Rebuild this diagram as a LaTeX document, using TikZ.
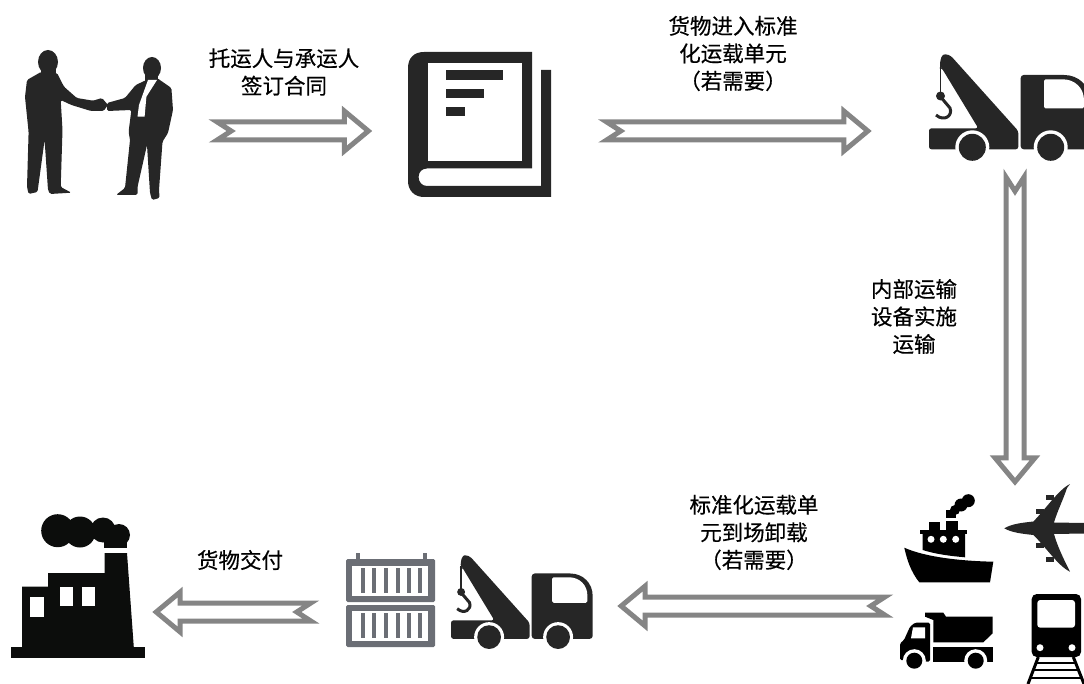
\documentclass[tikz,border=0pt]{standalone}
\usepackage{fontspec}
\usepackage{xcolor}
\usetikzlibrary{calc}
\setmainfont[FakeBold=0.4]{Noto Sans CJK SC}
\definecolor{arrowgray}{HTML}{858585}
\definecolor{icondark}{HTML}{262626}
\definecolor{iconblack}{HTML}{0C0D0C}
\definecolor{boxgray}{HTML}{6B6E75}
\tikzstyle{iconbox} = [inner sep=0, minimum width=#1]
\tikzstyle{textlabel} = [align=center, inner sep=0, font=\fontsize{21.5}{27.5}\selectfont]
\tikzstyle{arrowline} = [draw=arrowgray, line width=5pt, fill=white]

% one hollow arrow: from, to, gap at the tail, gap at the tip
\newcommand{\hollowarrow}[4]{
\coordinate (tail) at ($(#1)!#3!(#2)$);
\coordinate (tip) at ($(#2)!#4!(#1)$);
\draw[arrowline] ($(tail)!9pt!90:(tip)$) -- ($(tip)!24pt!(tail)!-9pt!90:(tail)$)
	-- ($(tip)!24pt!(tail)!-20pt!90:(tail)$) -- (tip)
	-- ($(tip)!24pt!(tail)!20pt!90:(tail)$) -- ($(tip)!24pt!(tail)!9pt!90:(tail)$)
	-- ($(tail)!-9pt!90:(tip)$) -- ($(tail)!14pt!(tip)$) -- cycle;
}

\tikzset{
	cranetruck/.pic={
		\fill[icondark, rounded corners=2.5pt] (11,14) -- (11,8) -- (13,1) -- (17,0) -- (22,2)
			-- (89.3,77) -- (89.3,95.3) -- (0,95.3) -- (0,74.3) -- (49.3,74.3) -- (12.7,14) -- cycle;
		\fill[icondark, rounded corners=3pt] (91.7,95.3) -- (91.7,21) -- (132,21)
			.. controls (150,21) and (161,32) .. (161,50) -- (161,95.3) -- cycle;
		\fill[white, rounded corners=1.5pt] (115,25.3) -- (115,54.3) -- (155,54.3) -- (155,48)
			.. controls (155,34) and (146,25.3) .. (132,25.3) -- cycle;
		\foreach \wx in {43.3,121.7} {
			\fill[white] (\wx,93.3) circle[radius=17];
			\fill[icondark] (\wx,93.3) circle[radius=13.5];
		}
		\draw[icondark, line width=1.5pt] (11.5,12) -- (11.5,40);
		\draw[icondark, line width=3pt] (10,41) -- (21,54) .. controls (24,62) and (15,68) .. (7,61);
		\fill[icondark] (11.5,42) circle[radius=4.5];
	}
}

\begin{document}
\begin{tikzpicture}[x=1pt, y=-1pt]
\useasboundingbox (0,0) rectangle (1084,684);
\clip (0,0) rectangle (1084,684);

% handshake
\fill[icondark] (48,62) ellipse[x radius=10, y radius=12];
\fill[icondark] (152,68) ellipse[x radius=9, y radius=11];
\fill[icondark] (41,66) rectangle (56,78);
\fill[icondark] (145,72) rectangle (158,84);
\fill[icondark, rounded corners=1.5pt] (41,72) -- (27,80) -- (25,97) -- (28.6,132) -- (27,187) -- (28.6,194) -- (37.5,192)
	-- (44.6,140) -- (48,190) -- (50,194) -- (71.4,192.7) -- (60.7,187) -- (62.5,130) -- (60.7,100) -- (71.4,105)
	-- (91,111) -- (103.6,111) -- (108,105) -- (102,98) -- (93,100.7) -- (76.8,98) -- (64,86.7) -- (57,73) -- cycle;
\fill[icondark, rounded corners=1.5pt] (107,103) -- (125,98) -- (135.7,85) -- (146.4,80) -- (157,78) -- (171.4,88) -- (173,110)
	-- (168,133) -- (162.5,141.7) -- (159,190) -- (159.6,198) -- (152,200) -- (150,193) -- (147,145) -- (137.5,187)
	-- (137.5,195) -- (116,195) -- (125,188) -- (130,140) -- (128.6,131.7) -- (131.4,110) -- (107,111) -- cycle;
\fill[white] (148,80) -- (139,105) -- (137.5,116.7) -- (144.6,116.7) -- (146.4,96.7) -- (157,80) -- cycle;

% book
\fill[icondark] (424,52) -- (532,52) -- (532,168.5) -- (427,168.5) .. controls (422,168.5) and (418.6,172) .. (418.6,177)
	.. controls (418.6,182) and (422,186) .. (427,186) -- (541,186) -- (541,70) -- (551,70) -- (551,197) -- (424,197)
	.. controls (414,197) and (408,190) .. (408,181) -- (408,68) .. controls (408,58) and (414,52) .. (424,52) -- cycle;
\fill[white] (427.5,62.7) rectangle (522,160.7);
\fill[icondark] (446,70) rectangle (503,80);
\fill[icondark] (446,89) rectangle (484,98);
\fill[icondark] (446,107) rectangle (465,116);

% crane trucks
\pic at (929,54) {cranetruck};
\pic[scale=0.88] at (451,555) {cranetruck};

% containers
\fill[boxgray] (356,553) rectangle (360,560);
\fill[boxgray] (423,553) rectangle (427,560);
\fill[boxgray, rounded corners=1.5pt] (346,559) rectangle (435,602);
\fill[boxgray, rounded corners=1.5pt] (346,605) rectangle (435,647);
\foreach \boxtop/\boxbot/\slattop/\slatbot in {566/596/568/593,611/641/613/638}
{
	\fill[white] (352,\boxtop) rectangle (428,\boxbot);
	\foreach \sx in {361,372,384,396,407,418}
		\fill[boxgray] (\sx,\slattop) rectangle (\sx+3.8,\slatbot);
}

% factory
\fill[iconblack] (11,647.3) rectangle (145,658);
\fill[iconblack] (22,650) -- (22,586.7) -- (48,586.7) -- (48,573) -- (104.6,573) -- (104.6,553) -- (127,553) -- (134,650) -- cycle;
\fill[iconblack] (104,532) rectangle (127,548);
\fill[iconblack] (57.7,530.7) circle[radius=16.5];
\fill[iconblack] (80,532) circle[radius=15.5];
\fill[iconblack] (103,530) circle[radius=12.5];
\fill[iconblack] (119,535) circle[radius=11];
\fill[white] (30,597) rectangle (44,617);
\fill[white] (59.6,586.7) rectangle (73,606);
\fill[white] (81.5,586.7) rectangle (95,606);

% ship
\fill[black] (904.3,547.7) .. controls (925,557) and (960,561) .. (993.3,561.7) -- (990,582.3) -- (919.3,582.3)
	.. controls (911,572) and (907,560) .. (904.3,547.7) -- cycle;
\fill[black] (922.7,534) -- (922.7,550) .. controls (935,554) and (950,556) .. (965,557.3) -- (965,534) -- cycle;
\fill[black] (920,530) rectangle (967.3,534);
\fill[black] (929,522.3) rectangle (940,530);
\fill[black] (945.7,520.7) rectangle (957.7,530);
\fill[black] (945.7,510) rectangle (956,518.3);
\fill[black] (968.3,500.7) circle[radius=6.5];
\fill[black] (961,505) circle[radius=6.5];
\fill[black] (955,510) circle[radius=5];
\foreach \px in {931,943.3,955.7}
	\fill[white] (\px,539.3) circle[radius=3.5];

% plane
\fill[icondark] (1004.3,528.3) .. controls (1012,523.5) and (1025,522.5) .. (1033.3,521.5) .. controls (1045,510) and (1058,490) .. (1070,484)
	-- (1067,488) .. controls (1063,500) and (1057,512) .. (1054,522.5) -- (1084,523) -- (1084,533.5)
	-- (1054,534) .. controls (1057,545) and (1063,558) .. (1070,571.7)
	.. controls (1058,566) and (1045,546) .. (1033.3,535) .. controls (1025,534) and (1012,533) .. (1004.3,528.3) -- cycle;
\fill[icondark] (1046,495) rectangle (1054,500);
\fill[icondark] (1036,509) rectangle (1044,514);
\fill[icondark] (1036,543) rectangle (1044,548);
\fill[icondark] (1046,557) rectangle (1054,562);

% dump truck
\fill[black] (925,612.7) -- (943.3,612.7) -- (946,616.7) -- (992.7,616.7) -- (992.7,633.3) -- (983.3,642.3) -- (933.3,642.3) -- (933.3,620) -- (925,616.7) -- cycle;
\fill[black] (933.3,646.7) rectangle (992.7,661.7);
\fill[black, rounded corners=1.5pt] (900,660) -- (900,643.3) -- (904,640) -- (910,626.7) -- (915,622.7) -- (930,622.7) -- (930,661.7) -- cycle;
\fill[white] (913,627.3) -- (925,627.3) -- (925,638.3) -- (911,638.3) -- cycle;
\foreach \wx in {914.3,975.7} {
	\fill[white] (\wx,660.7) circle[radius=11.5];
	\fill[black] (\wx,660.7) circle[radius=8];
}

% train
\fill[black, rounded corners=5pt] (1031.7,594) rectangle (1081,657);
\fill[white, rounded corners=3pt] (1037.3,600) rectangle (1075,627.7);
\fill[white] (1040,647.7) circle[radius=3.5];
\fill[white] (1072,647.7) circle[radius=3.5];
\draw[black, line width=3pt] (1038.3,657) -- (1028,684);
\draw[black, line width=3pt] (1073.3,657) -- (1084,684);
\foreach \ty/\tl/\tr in {663/1036/1076,670/1033/1079,678/1030/1082}
	\draw[black, line width=2.5pt] (\tl,\ty) -- (\tr,\ty);

% nodes the arrows run between
\node[iconbox=150pt, minimum height=64pt] (contract) at (99,131) {};
\node[iconbox=143pt, minimum height=64pt] (book) at (480,131) {};
\node[iconbox=172pt, minimum height=64pt] (crane1) at (1015,131) {};
\node[iconbox=230pt, minimum height=240pt] (transit) at (1015,606) {};
\node[iconbox=142pt, minimum height=64pt] (crane2) at (521,606) {};
\node[iconbox=90pt, minimum height=64pt] (containers) at (390,612) {};
\node[iconbox=134pt, minimum height=64pt] (factory) at (78,612) {};

\foreach \from/\to/\gaptail/\gaptip in {contract.east/book.west/43pt/40pt,book.east/crane1.west/55pt/61pt,crane1.south/transit.north/14pt/4pt,transit.west/crane2.east/15pt/29pt,containers.west/factory.east/34pt/11pt}
{
	\hollowarrow{\from}{\to}{\gaptail}{\gaptip}
}

\node[textlabel] (sign) at (284,72) {托运人与承运人\\签订合同};
\node[textlabel] (load) at (733,53.5) {货物进入标准\\化运载单元\\（若需要）};
\node[textlabel] (move) at (914,316.5) {内部运输\\设备实施\\运输};
\node[textlabel] (unload) at (754,532.5) {标准化运载单\\元到场卸载\\（若需要）};
\node[textlabel] (deliver) at (240,560) {货物交付};

\end{tikzpicture}
\end{document}
